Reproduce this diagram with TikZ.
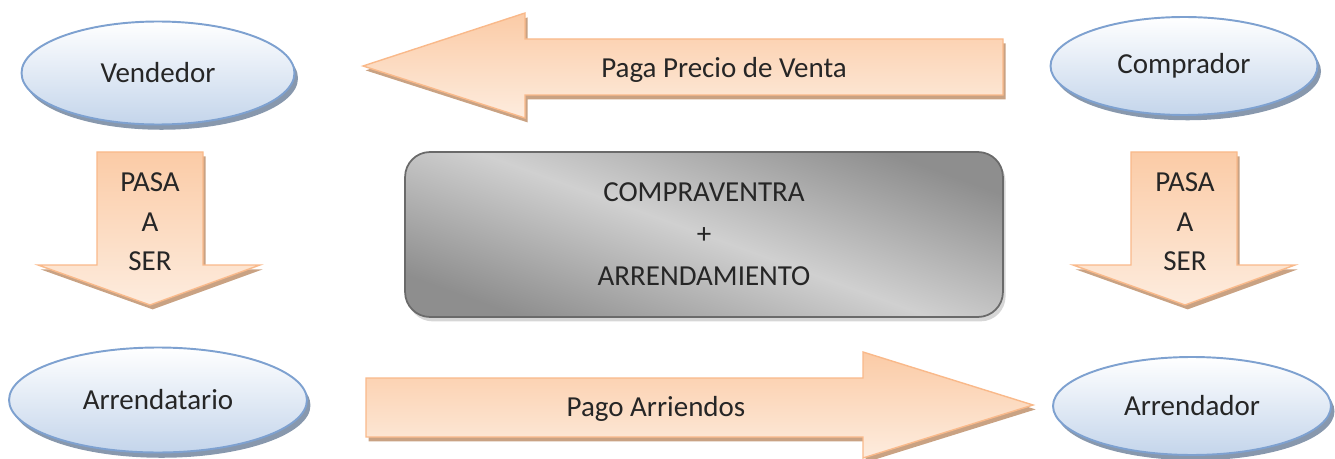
\documentclass[tikz,border=0pt]{standalone}
\usepackage{fontspec}
\setmainfont{Carlito}
\usetikzlibrary{shapes,shadows}

\definecolor{ellline}{RGB}{126,161,208}
\definecolor{ellbot}{RGB}{196,213,235}
\definecolor{ellshadow}{RGB}{136,152,173}
\definecolor{arrline}{RGB}{249,185,138}
\definecolor{arrdark}{RGB}{251,203,166}
\definecolor{arrlight}{RGB}{253,236,222}
\definecolor{arrshadow}{RGB}{201,162,131}
\definecolor{boxline}{RGB}{106,106,106}
\definecolor{boxlight}{RGB}{208,208,208}
\definecolor{boxdark}{RGB}{142,142,142}
\definecolor{boxshadow}{RGB}{214,214,214}
\definecolor{txt}{RGB}{38,38,38}

\begin{document}
\begin{tikzpicture}[x=0.02cm,y=-0.02cm,
  party/.style={ellipse,draw=ellline,line width=1.1pt,top color=white,bottom color=ellbot,
    drop shadow={fill=ellshadow,opacity=1,shadow xshift=2pt,shadow yshift=-3pt},
    inner sep=0pt,font=\fontsize{16.5}{19}\selectfont,text=txt},
  block/.style={draw=arrline,line width=0.8pt,top color=arrdark,bottom color=arrlight,
    drop shadow={fill=arrshadow,opacity=1,shadow xshift=1.5pt,shadow yshift=-2.5pt}},
  caja/.style={rectangle,draw=boxline,line width=1pt,rounded corners=0.5cm,
    top color=boxdark,bottom color=boxdark,middle color=boxlight,shading angle=-20,
    drop shadow={fill=boxshadow,opacity=1,shadow xshift=1.5pt,shadow yshift=-2.5pt},
    align=center,text=txt,font=\fontsize{16.5}{24}\selectfont},
  lbl/.style={align=center,text=txt,font=\fontsize{16.5}{22.5}\selectfont}]

\useasboundingbox (0,0) rectangle (1335,459);

% the four parties
\node[party,minimum width=5.46cm,minimum height=2.06cm] (vend) at (158,73) {Vendedor};
\node[party,minimum width=5.34cm,minimum height=1.96cm] (comp) at (1184,66) {Comprador};
\node[party,minimum width=5.96cm,minimum height=2.1cm] (arrtario) at (158,400) {Arrendatario};
\node[party,minimum width=5.56cm,minimum height=1.96cm] (arrdor) at (1192,406) {Arrendador};

% block arrows
\path[block] (363,66) -- (525,13) -- (525,39) -- (1003,39) -- (1003,95) -- (525,95) -- (525,118) -- cycle;
\path[block] (366,378) -- (863,378) -- (863,352) -- (1033,405) -- (863,458) -- (863,437) -- (366,437) -- cycle;
\path[block] (97,152) -- (203,152) -- (203,265) -- (260,265) -- (150,305) -- (38,265) -- (97,265) -- cycle;
\path[block] (1131,152) -- (1237,152) -- (1237,265) -- (1295,265) -- (1185,305) -- (1073,265) -- (1131,265) -- cycle;

\node[lbl] (paga) at (724,70) {Paga Precio de Venta};
\node[lbl] (pago) at (656,409) {Pago Arriendos};
\node[lbl] (pasa1) at (150,222) {PASA\\A\\SER};
\node[lbl] (pasa2) at (1185,222) {PASA\\A\\SER};

% contract box
\node[caja,minimum width=11.96cm,minimum height=3.3cm] (cv) at (704,234.5) {COMPRAVENTRA\\+\\ARRENDAMIENTO};
\end{tikzpicture}
\end{document}
